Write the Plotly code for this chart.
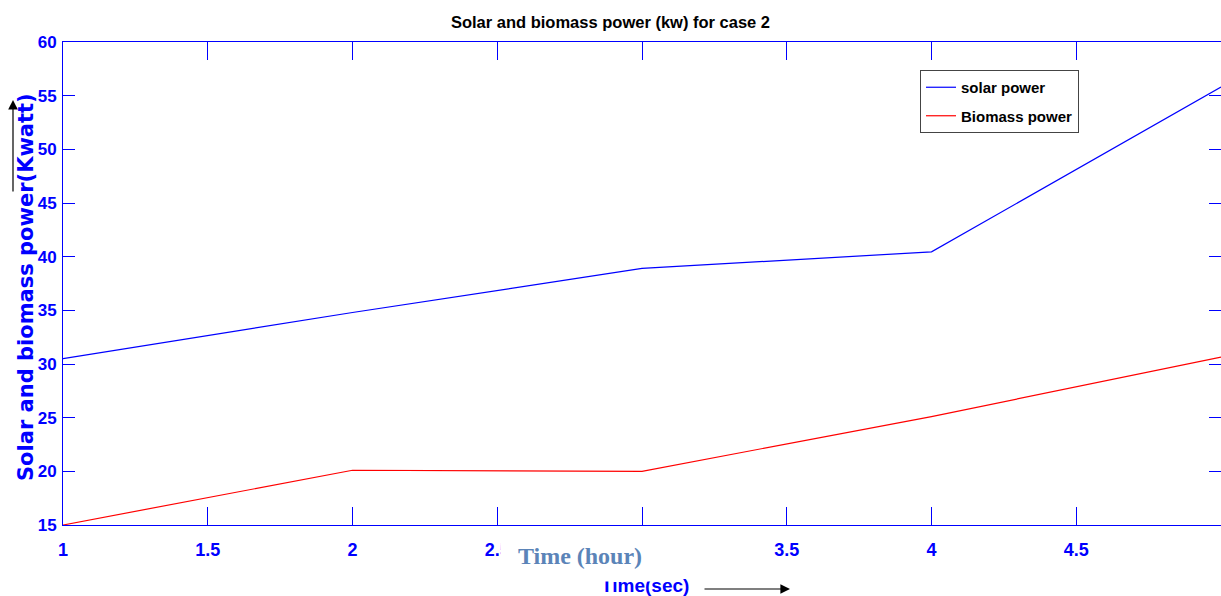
import plotly.graph_objects as go

hours = [1, 2, 3, 4, 5]
solar_power = [30.5, 34.8, 38.9, 40.45, 55.8]
biomass_power = [15.0, 20.1, 20.0, 25.1, 30.65]
x_ticks = [1, 1.5, 2, 2.5, 3, 3.5, 4, 4.5]
y_ticks = [15, 20, 25, 30, 35, 40, 45, 50, 55, 60]

W, H = 1221, 596
L, R, T, B = 63, 0, 42, 71
pw, ph = W - L - R, H - T - B

def px(x):
    return (x - L) / pw

def py(y):
    return (H - B - y) / ph

NARROW = "Liberation Sans Narrow, Arial Narrow, Arial, sans-serif"
BLUE = "#0000ff"

fig = go.Figure()
fig.add_trace(go.Scatter(x=hours, y=solar_power, mode="lines", name="solar power",
                         legendgroup="a", line=dict(color="#0000ff", width=1.2)))
fig.add_trace(go.Scatter(x=hours, y=biomass_power, mode="lines", name="Biomass power",
                         legendgroup="b", line=dict(color="#ff0000", width=1.2)))

axis_common = dict(showline=True, linecolor=BLUE, linewidth=1, mirror="ticks",
                   ticks="inside", tickcolor=BLUE, showgrid=False, zeroline=False)

fig.update_layout(
    width=W, height=H,
    margin=dict(l=L, r=R, t=T, b=B),
    plot_bgcolor="white", paper_bgcolor="white",
    title=dict(text="Solar and biomass power (kw) for case 2", x=px(642), xanchor="center",
               y=1 - 22 / H, yanchor="middle",
               font=dict(family=NARROW, size=16.5, color="black", weight="bold")),
    xaxis=dict(range=[1, 5], tickvals=x_ticks, ticklen=18, ticklabelstandoff=8,
               tickfont=dict(family=NARROW, size=18, color=BLUE, weight="bold"), **axis_common),
    yaxis=dict(range=[15, 60], tickvals=y_ticks, ticklen=12, ticklabelstandoff=2,
               tickfont=dict(family=NARROW, size=17, color=BLUE, weight="bold"), **axis_common),
    legend=dict(x=px(920), y=py(70), xanchor="left", yanchor="top",
                bgcolor="white", bordercolor="#444444", borderwidth=1,
                font=dict(family=NARROW, size=15, color="black", weight="bold"),
                traceorder="grouped", tracegroupgap=6),
    showlegend=True,
)

annotations = [
    dict(text="Solar and biomass power(Kwatt)", xref="paper", yref="paper",
         x=px(26), y=py(287), textangle=-90, showarrow=False, xanchor="center", yanchor="middle",
         font=dict(family="DejaVu Sans, Arial, sans-serif", size=21, color=BLUE, weight="bold")),
    dict(text="Time(sec)", xref="paper", yref="paper", x=px(645), y=py(585),
         showarrow=False, xanchor="center", yanchor="middle",
         font=dict(family=NARROW, size=19, color=BLUE, weight="bold")),
    dict(text="Time (hour)", xref="paper", yref="paper", x=px(580), y=py(556),
         showarrow=False, xanchor="center", yanchor="middle", width=158, height=50,
         bgcolor="white", borderpad=0,
         font=dict(family="Liberation Serif, Times New Roman, serif", size=24,
                   color="#5b84b8", weight="bold")),
    dict(text="", xref="paper", yref="paper", x=px(790), y=py(589), ax=-87, ay=0,
         showarrow=True, arrowhead=2, arrowsize=1.6, arrowwidth=1.2, arrowcolor="black"),
    dict(text="", xref="paper", yref="paper", x=px(13), y=py(100), ax=0, ay=93,
         showarrow=True, arrowhead=2, arrowsize=1.6, arrowwidth=1.2, arrowcolor="black"),
]
fig.update_layout(annotations=annotations)

fig.write_html("out.html", config={"displayModeBar": False},
               post_script="document.body.style.margin='0';document.body.style.overflow='hidden';")
